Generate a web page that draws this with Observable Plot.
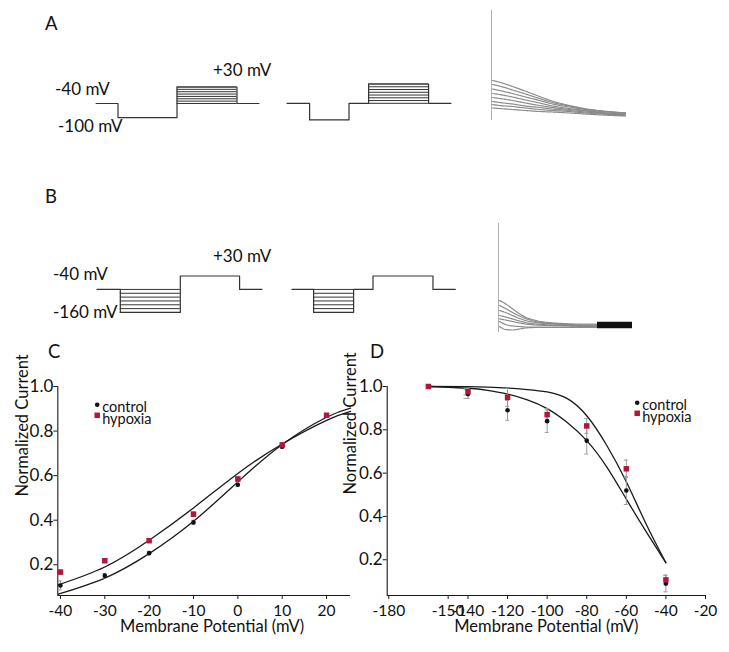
<!DOCTYPE html>
<html><head><meta charset="utf-8">
<script src="https://cdn.jsdelivr.net/npm/d3@7"></script>
<script src="https://cdn.jsdelivr.net/npm/@observablehq/plot@0.6"></script>
<style>
body{margin:0;background:#fff;}
#fig{position:relative;width:729px;height:652px;background:#fff;overflow:hidden;font-family:Lato,"Open Sans",sans-serif;color:#111}
#fig > svg{position:absolute;overflow:visible}
</style></head>
<body><div id="fig"></div>
<script>
// ================= DATA =================
// Panel C – activation (normalized current vs test potential)
const actV = [-40, -30, -20, -10, 0, 10, 20];
const actControl = [0.107, 0.151, 0.252, 0.390, 0.559, 0.730, 0.870];
const actHypoxia = [0.167, 0.218, 0.308, 0.427, 0.585, 0.738, 0.871];
const actControlErr = [0.02, 0.01, 0.008, 0.01, 0.008, 0.008, 0.008];
const actHypoxiaErr = [0.01, 0.008, 0.008, 0.01, 0.01, 0.008, 0.008];
// fitted curves
const actFitV = [-40.5, -30, -20, -10, 0, 10, 20, 25.4];
const actFitControl = [0.068, 0.140, 0.250, 0.395, 0.572, 0.740, 0.862, 0.903];
const actFitHypoxia = [0.110, 0.190, 0.310, 0.455, 0.610, 0.742, 0.848, 0.888];

// Panel D – steady-state inactivation
const inactV = [-150, -140, -120, -100, -80, -60, -40];
const inactControl = [1.0, 0.965, 0.890, 0.840, 0.750, 0.520, 0.090];
const inactHypoxia = [1.0, 0.976, 0.950, 0.870, 0.818, 0.620, 0.107];
const inactControlErr = [0, 0.02, 0.046, 0.052, 0.062, 0.065, 0.038];
const inactHypoxiaErr = [0, 0.015, 0.042, 0.028, 0.034, 0.04, 0.022];
const inactFitV = [-150, -140, -130, -120, -110, -100, -90, -80, -70, -60, -50, -40];
const inactFitControl = [1.0, 0.992, 0.982, 0.965, 0.938, 0.898, 0.835, 0.750, 0.630, 0.480, 0.330, 0.186];
const inactFitHypoxia = [1.0, 0.999, 0.997, 0.993, 0.986, 0.975, 0.945, 0.865, 0.730, 0.560, 0.365, 0.186];

// tick labels
const actTicksX = [-40, -30, -20, -10, 0, 10, 20];
const inactTicksX = [-180, -150, -140, -120, -100, -80, -60, -40, -20];
const yTicks = [0.2, 0.4, 0.6, 0.8, 1.0];
const legendLabels = ["control", "hypoxia"];
const xTitle = "Membrane Potential (mV)";
const yTitle = "Normalized Current";

// Voltage protocols (time in ms, voltage in mV)
const protoA1T = [0, 22, 81, 141, 163];
const protoA1V = [-40, -100, 30, -40, -40];
const protoA2T = [0, 22.6, 62, 81.6, 141.6, 164];
const protoA2V = [-40, -100, -40, 30, -40, -40];
const testLevels = [-40, -30, -20, -10, 0, 10, 20, 30];
const protoB1T = [0, 23.3, 83.3, 142.6, 165];
const protoB1V = [-40, -160, 30, -40, -40];
const protoB2T = [0, 21.6, 61.6, 81, 141, 163.3];
const protoB2V = [-40, -160, -40, 30, -40, -40];
const condLevels = [-40, -60, -80, -100, -120, -140, -160];

// Current traces (arbitrary units above baseline)
const traceAT = [1, 8, 21, 34, 48, 61, 78, 94, 111, 134];
const traceA = [
  [38, 36.3, 32, 27.3, 22, 17.3, 13, 9.7, 7.3, 5.7],
  [34, 32.5, 28.5, 24.5, 20, 16, 12.5, 9.5, 7.5, 5.5],
  [29.5, 28, 25, 21.5, 18, 14.5, 11.5, 9, 7, 5],
  [25, 24, 21.5, 18.5, 15.5, 12.5, 10, 8, 6, 4.5],
  [21, 20, 18, 15.5, 13, 11, 9, 7.5, 5.5, 4],
  [17, 16, 14.5, 12.5, 11, 9.5, 8, 6.5, 5, 3.5],
  [14, 13, 12, 10.5, 9, 8, 7, 5.5, 4.5, 3],
  [10.5, 10, 9, 8, 7, 6.5, 5.5, 4.5, 3.5, 2.5]
];
const spikeA = [-2, 108];
const traceBT = [1, 7, 14, 21, 27, 37, 54, 71, 87, 99];
const traceB = [
  [30, 26.7, 21.7, 16.7, 13.3, 10, 7.7, 6.7, 6.3, 6.3],
  [25, 22, 18, 14.5, 12, 9, 7, 6, 5.5, 5.5],
  [20, 18, 15, 12, 10, 8, 6.5, 5.5, 5, 5],
  [15, 13.5, 11.5, 9.5, 8, 6.5, 5.5, 5, 4.5, 4.5],
  [11.7, 10.5, 9, 7.5, 6.5, 5.5, 5, 4.5, 4, 4],
  [9, 6, 4.5, 4, 3.5, 3.5, 3.5, 3.5, 3.5, 3.5],
  [4, 1, 0.5, 1.5, 2.5, 3, 3, 3, 3, 3]
];
const spikeB = [-2, 107];
const bandBT = [99, 134];
const bandBLo = [1.7, 1.7];
const bandBHi = [8.3, 8.3];

// text annotations
const panelLetters = ["A", "B", "C", "D"];
const protocolLabels = ["-40 mV", "+30 mV", "-100 mV", "-40 mV", "+30 mV", "-160 mV"];

// ================= DRAWING =================
const fig = document.getElementById("fig");
const FONT = 'Lato, "Open Sans", sans-serif';
const RED = "#b3163d";
const INK = "#1a1a1a";
const X_TICK_FONT = 15.5;
const place = (el, left, top) => { el.style.left = left + "px"; el.style.top = top + "px"; fig.appendChild(el); };
const rows = (xs, ys, es) => xs.map((x, i) => ({x, y: ys[i], e: es ? es[i] : 0}));

function dataMarks(ctl, hyp, fitX, fitC, fitH, capW) {
  const err = [...ctl, ...hyp].filter(d => d.e > 0);
  return [
    Plot.line(rows(fitX, fitC), {x: "x", y: "y", curve: "natural", stroke: INK, strokeWidth: 1.3}),
    Plot.line(rows(fitX, fitH), {x: "x", y: "y", curve: "natural", stroke: INK, strokeWidth: 1.3}),
    Plot.ruleX(err, {x: "x", y1: d => d.y - d.e, y2: d => d.y + d.e, stroke: "#9a9a9a", strokeWidth: 1}),
    Plot.ruleY(err, {y: d => d.y - d.e, x1: d => d.x - capW, x2: d => d.x + capW, stroke: "#9a9a9a", strokeWidth: 1}),
    Plot.ruleY(err, {y: d => d.y + d.e, x1: d => d.x - capW, x2: d => d.x + capW, stroke: "#9a9a9a", strokeWidth: 1}),
    Plot.dot(ctl, {x: "x", y: "y", r: 2.3, fill: "#111", stroke: "none"}),
    Plot.dot(hyp, {x: "x", y: "y", r: 3.1, symbol: "square", fill: RED, stroke: "none"})
  ];
}
function legendMarks(dx, dy) {
  return [
    Plot.dot([legendLabels[0]], {frameAnchor: "top-left", dx: dx, dy: dy, r: 2.3, fill: "#111", stroke: "none"}),
    Plot.dot([legendLabels[1]], {frameAnchor: "top-left", dx: dx, dy: dy + 10.5, r: 3.1, symbol: "square", fill: RED, stroke: "none"}),
    Plot.text([legendLabels[0]], {text: d => d, frameAnchor: "top-left", dx: dx + 5, dy: dy - 2.8, textAnchor: "start", fontSize: 14.5, fill: "#111"}),
    Plot.text([legendLabels[1]], {text: d => d, frameAnchor: "top-left", dx: dx + 5, dy: dy + 8.7, textAnchor: "start", fontSize: 14.5, fill: "#111"})
  ];
}
function axisMarks(xDomain, yDomain, xTicks, dxTitleX, dxTitleY, dyTitleY) {
  return [
    Plot.ruleX([xDomain[0]], {stroke: INK, strokeWidth: 1.1}),
    Plot.ruleY([yDomain[0]], {stroke: INK, strokeWidth: 1.1}),
    Plot.axisX({ticks: xTicks, tickFormat: d => String(d), tickSize: 4, tickPadding: 5.5, fontSize: X_TICK_FONT, label: null, stroke: INK}),
    Plot.axisY({ticks: yTicks, tickFormat: d3.format(".1f"), tickSize: 4, tickPadding: 0.5, fontSize: 17, label: null, stroke: INK}),
    Plot.text([xTitle], {text: d => d, frameAnchor: "bottom", dx: dxTitleX, dy: 36.5, fontSize: 16.5, fill: "#111"}),
    Plot.text([yTitle], {text: d => d, frameAnchor: "left", rotate: -90, dx: dxTitleY, dy: dyTitleY, fontSize: 16.5, fill: "#111"})
  ];
}

// ---- Panel C ----
{
  const xDom = [-40.6, 25.4], yDom = [0.062, 1.0];
  const el = Plot.plot({
    width: 360, height: 282, marginLeft: 57.3, marginRight: 10, marginTop: 16, marginBottom: 57,
    style: {fontFamily: FONT, background: "transparent", overflow: "visible", color: "#111"},
    x: {domain: xDom}, y: {domain: yDom},
    marks: [
      ...axisMarks(xDom, yDom, actTicksX, 8, -35.4, 5.5),
      ...dataMarks(rows(actV, actControl, actControlErr), rows(actV, actHypoxia, actHypoxiaErr), actFitV, actFitControl, actFitHypoxia, 0.4),
      ...legendMarks(39.4, 18.3)
    ]
  });
  place(el, 0, 370);
}

// ---- Panel D ----
{
  const W = 399, ML = 56.7, MR = 24;
  const xDom = [-180.8, -20], yDom = [0.035, 1.0];
  // In the figure the "-150" tick and point sit one 20 mV step left of -140 on an otherwise linear axis.
  const warp = d3.scaleLinear([-180.8, -150, -140, -20], [-180.8, -160, -140, -20]);
  const el = Plot.plot({
    width: W, height: 282, marginLeft: ML, marginRight: MR, marginTop: 16, marginBottom: 57,
    style: {fontFamily: FONT, background: "transparent", overflow: "visible", color: "#111"},
    x: {domain: xDom, transform: warp}, y: {domain: yDom},
    marks: [
      ...axisMarks(xDom, yDom, inactTicksX, 0, -36.8, 3.5),
      ...dataMarks(rows(inactV, inactControl, inactControlErr), rows(inactV, inactHypoxia, inactHypoxiaErr), inactFitV, inactFitControl, inactFitHypoxia, 1),
      ...legendMarks(250, 16.3)
    ]
  });
  place(el, 330, 370);
}

// ---- Voltage protocols ----
function protocol(T, V, famLevels, famT0, famT1, lay) {
  const m = 1.5, tMax = T[T.length - 1];
  const vMin = d3.min([...V, ...famLevels]), vMax = d3.max([...V, ...famLevels]);
  const el = Plot.plot({
    width: tMax + 2 * m, height: (vMax - vMin) * lay.pxPerMv + 2 * m, margin: m,
    style: {background: "transparent", overflow: "visible"},
    x: {domain: [0, tMax], axis: null}, y: {domain: [vMin, vMax], axis: null},
    marks: [
      Plot.ruleY(famLevels, {x1: famT0, x2: famT1, stroke: "#333", strokeWidth: 1}),
      Plot.line(rows(T, V), {x: "x", y: "y", curve: "step-after", stroke: "#333", strokeWidth: 1.2})
    ]
  });
  place(el, lay.x0 - m, lay.yHold - (vMax + 40) * lay.pxPerMv - m);
}
protocol(protoA1T, protoA1V, testLevels, protoA1T[2], protoA1T[3], {x0: 95, yHold: 102.7, pxPerMv: 0.236});
protocol(protoA2T, protoA2V, testLevels, protoA2T[3], protoA2T[4], {x0: 286.7, yHold: 103.3, pxPerMv: 0.276});
protocol(protoB1T, protoB1V, condLevels, protoB1T[1], protoB1T[2], {x0: 96.7, yHold: 289, pxPerMv: 0.192});
protocol(protoB2T, protoB2V, condLevels, protoB2T[1], protoB2T[2], {x0: 291.7, yHold: 289.3, pxPerMv: 0.192});

// ---- Current traces ----
function traces(T, sets, spike, band, lay) {
  const tMin = -2, tMax = 136, vMin = -3, vMax = spike[1] + 1;
  const data = sets.flatMap((s, k) => s.map((v, i) => ({t: T[i], v, k})));
  const marks = [
    Plot.ruleX([0], {y1: spike[0], y2: spike[1], stroke: "#b0b0b0", strokeWidth: 1}),
    Plot.line(data, {x: "t", y: "v", z: "k", curve: "monotone-x", stroke: "#8a8a8a", strokeWidth: 1.2, strokeDasharray: "2,0.8"})
  ];
  if (band) marks.push(Plot.areaY(band.t.map((t, i) => ({t, lo: band.lo[i], hi: band.hi[i]})), {x: "t", y1: "lo", y2: "hi", fill: "#111"}));
  const el = Plot.plot({
    width: tMax - tMin, height: vMax - vMin, margin: 0,
    style: {background: "transparent", overflow: "visible"},
    x: {domain: [tMin, tMax], axis: null}, y: {domain: [vMin, vMax], axis: null},
    marks
  });
  place(el, lay.x0 + tMin, lay.yBase - vMax);
}
traces(traceAT, traceA, spikeA, null, {x0: 490.7, yBase: 118});
traces(traceBT, traceB, spikeB, {t: bandBT, lo: bandBLo, hi: bandBHi}, {x0: 497.7, yBase: 330});

// ---- Annotation overlay (panel letters and protocol labels) ----
const letterPos = [[45, 30], [45, 203], [48, 358], [370, 358]];
const labelPos = [[55, 95], [213, 76], [58, 131.5], [53, 280], [213, 262], [53, 318]];
const ov = d3.create("svg").attr("width", 729).attr("height", 652)
  .style("left", "0px").style("top", "0px").style("pointer-events", "none")
  .attr("font-family", FONT).attr("fill", "#111");
ov.selectAll("text.l").data(panelLetters).join("text").attr("class", "l")
  .attr("x", (d, i) => letterPos[i][0]).attr("y", (d, i) => letterPos[i][1]).attr("font-size", 18.5).text(d => d);
ov.selectAll("text.p").data(protocolLabels).join("text").attr("class", "p")
  .attr("x", (d, i) => labelPos[i][0]).attr("y", (d, i) => labelPos[i][1]).attr("font-size", 17).text(d => d);
fig.appendChild(ov.node());
</script>
</body></html>
